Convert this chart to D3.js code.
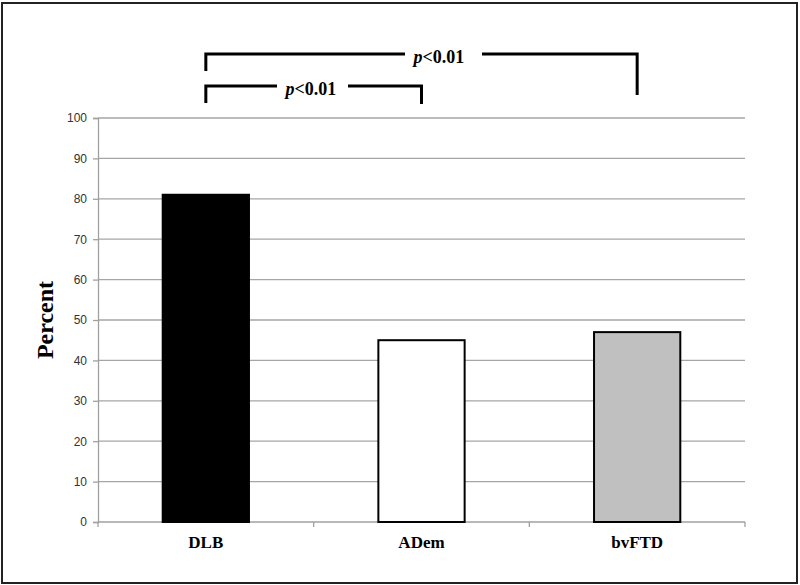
<!DOCTYPE html>
<html>
<head>
<meta charset="utf-8">
<script src="https://cdnjs.cloudflare.com/ajax/libs/d3/7.8.5/d3.min.js"></script>
<style>
  body { margin: 0; background: #fff; }
  svg { display: block; }
</style>
</head>
<body>
<script>
// chart data
const groups = ["DLB", "ADem", "bvFTD"];
const percents = [81, 45, 47];
const fills = ["#000000", "#ffffff", "#c0c0c0"];
const yTicks = [0, 10, 20, 30, 40, 50, 60, 70, 80, 90, 100];
// significance brackets: [from group, to group, label]
const brackets = [
  ["DLB", "ADem", "<0.01"],
  ["DLB", "bvFTD", "<0.01"]
];

const w = 800, h = 585;
const plotL = 98, plotR = 745, plotT = 118, plotB = 522;

const svg = d3.select("body").append("svg")
  .attr("width", w)
  .attr("height", h);

// frame round the whole chart
svg.append("rect")
  .attr("x", 2).attr("y", 3)
  .attr("width", 795).attr("height", 580)
  .attr("fill", "none")
  .attr("stroke", "#222")
  .attr("stroke-width", 2);

const x = d3.scaleBand()
  .domain(groups)
  .range([plotL, plotR])
  .paddingInner(0.6)
  .paddingOuter(0.3);

const y = d3.scaleLinear()
  .domain([0, 100])
  .range([plotB, plotT]);

// gridlines
svg.append("g")
  .selectAll("line")
  .data(yTicks.filter(d => d > 0))
  .enter()
  .append("line")
  .attr("x1", plotL).attr("x2", plotR)
  .attr("y1", d => y(d)).attr("y2", d => y(d))
  .attr("stroke", "#a6a6a6")
  .attr("stroke-width", 1.3);

// y axis
const yAxis = d3.axisLeft(y).tickValues(yTicks).tickSize(5).tickPadding(6);
const gy = svg.append("g")
  .attr("transform", "translate(" + plotL + ",0)")
  .call(yAxis);
gy.selectAll("path, line").attr("stroke", "#a0a0a0").attr("stroke-width", 1.3);
gy.selectAll("text")
  .attr("fill", "#333")
  .style("font-family", "'Liberation Sans', Arial, sans-serif")
  .style("font-size", "12px");

// x axis line + separators between groups
const step = x.step();
const edges = d3.range(groups.length + 1).map(i => plotL + i * step);
svg.append("line")
  .attr("x1", plotL).attr("x2", plotR)
  .attr("y1", plotB).attr("y2", plotB)
  .attr("stroke", "#a0a0a0").attr("stroke-width", 1.3);
svg.append("g")
  .selectAll("line")
  .data(edges)
  .enter()
  .append("line")
  .attr("x1", d => d).attr("x2", d => d)
  .attr("y1", plotB).attr("y2", plotB + 5)
  .attr("stroke", "#a0a0a0").attr("stroke-width", 1.3);

// bars
svg.append("g")
  .selectAll("rect")
  .data(groups)
  .enter()
  .append("rect")
  .attr("x", d => x(d))
  .attr("y", (d, i) => y(percents[i]))
  .attr("width", x.bandwidth())
  .attr("height", (d, i) => y(0) - y(percents[i]))
  .attr("fill", (d, i) => fills[i])
  .attr("stroke", "#000")
  .attr("stroke-width", 2);

// category labels
svg.append("g")
  .selectAll("text")
  .data(groups)
  .enter()
  .append("text")
  .attr("x", d => x(d) + x.bandwidth() / 2)
  .attr("y", 548)
  .attr("text-anchor", "middle")
  .style("font-family", "'Liberation Serif', 'Times New Roman', serif")
  .style("font-weight", "bold")
  .style("font-size", "17px")
  .text(d => d);

// y title
svg.append("text")
  .attr("transform", "translate(53," + ((plotT + plotB) / 2) + ") rotate(-90)")
  .attr("text-anchor", "middle")
  .style("font-family", "'Liberation Serif', 'Times New Roman', serif")
  .style("font-weight", "bold")
  .style("font-size", "24px")
  .text("Percent");

// brackets
const mid = d => x(d) + x.bandwidth() / 2;
const bracketRows = [
  { yLine: 86, yEnd: [103, 104], gapL: 277, gapR: 348, textX: 311 },
  { yLine: 54, yEnd: [71, 95], gapL: 405, gapR: 482, textX: 439 }
];
brackets.forEach((b, i) => {
  const r = bracketRows[i];
  const x1 = mid(b[0]), x2 = mid(b[1]);
  const g = svg.append("g")
    .attr("fill", "none")
    .attr("stroke", "#000")
    .attr("stroke-width", 3);
  g.append("path")
    .attr("d", "M" + x1 + "," + r.yEnd[0] + "V" + r.yLine + "H" + r.gapL);
  g.append("path")
    .attr("d", "M" + r.gapR + "," + r.yLine + "H" + x2 + "V" + r.yEnd[1]);
  const t = svg.append("text")
    .attr("x", r.textX)
    .attr("y", r.yLine + 9)
    .attr("text-anchor", "middle")
    .style("font-family", "'Liberation Serif', 'Times New Roman', serif")
    .style("font-weight", "bold")
    .style("font-size", "18px");
  t.append("tspan").style("font-style", "italic").text("p");
  t.append("tspan").text(b[2]);
});
</script>
</body>
</html>
